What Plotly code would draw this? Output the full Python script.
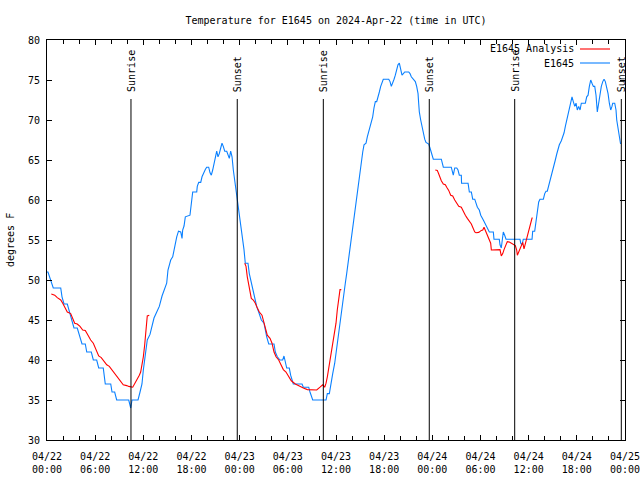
import pandas as pd
import plotly.graph_objects as go

BASE = pd.Timestamp("2024-04-22 00:00")

# E1645 observations: hours since 2024-04-22 00:00 UTC, temperature (F)
obs_hours = [0.00, 0.12, 0.78, 1.71, 1.87, 2.12, 2.53, 2.78, 3.11, 3.36, 3.77, 4.02, 4.36, 4.77, 4.95,
             5.52, 5.77, 6.19, 6.44, 7.01, 7.26, 7.94, 8.10, 8.43, 8.68, 10.18, 10.43, 10.59, 11.34,
             11.59, 11.83, 12.00, 12.25, 12.49, 12.83, 13.08, 13.33, 13.67, 13.99, 14.33, 14.66, 14.91,
             15.07, 15.41, 15.66, 15.91, 16.16, 16.38, 16.66, 16.82, 16.90, 17.07, 17.23, 17.81, 17.90,
             18.06, 18.15, 18.65, 18.72, 18.90, 19.15, 19.31, 19.47, 19.72, 19.89, 20.14, 20.31, 20.47,
             20.64, 20.80, 20.97, 21.14, 21.30, 21.46, 21.64, 21.80, 21.96, 22.14, 22.39, 22.55, 22.71,
             22.88, 23.05, 23.21, 23.38, 23.54, 23.71, 23.88, 24.04, 24.20, 24.38, 24.54, 24.70, 25.04,
             25.20, 25.37, 25.54, 25.70, 25.95, 26.12, 26.37, 26.70, 27.03, 27.19, 27.37, 27.62, 28.28,
             28.44, 28.69, 29.02, 29.36, 29.52, 29.86, 30.18, 30.35, 30.68, 31.77, 31.93, 32.60, 32.76,
             33.01, 33.10, 34.76, 34.92, 35.17, 35.34, 35.59, 35.84, 36.16, 36.41, 36.66, 36.91, 37.16,
             37.33, 37.50, 37.66, 37.83, 37.99, 38.16, 38.33, 38.49, 38.65, 38.83, 38.99, 39.15, 39.33,
             39.49, 39.74, 39.90, 40.07, 40.15, 40.24, 40.40, 40.57, 40.73, 40.90, 41.07, 41.23, 41.40,
             41.57, 41.73, 41.89, 42.57, 42.73, 42.89, 43.06, 43.23, 43.39, 43.56, 43.72, 43.89, 44.06,
             44.22, 44.39, 44.56, 45.06, 45.22, 45.38, 45.72, 45.88, 46.05, 46.22, 46.30, 46.38, 46.55,
             46.71, 46.88, 47.05, 47.21, 47.55, 47.71, 47.96, 48.12, 49.12, 49.29, 49.37, 50.36, 50.54,
             50.61, 50.79, 51.04, 51.20, 51.36, 51.61, 51.64, 52.45, 52.61, 52.86, 53.03, 53.28, 53.44,
             53.61, 53.85, 54.03, 54.35, 54.60, 54.77, 54.94, 55.10, 55.60, 55.68, 56.34, 56.43, 56.59,
             56.68, 56.84, 57.01, 57.18, 58.92, 59.01, 59.17, 59.33, 60.42, 60.50, 60.75, 60.91, 61.08,
             61.25, 61.41, 61.83, 62.00, 62.16, 62.32, 62.50, 62.66, 62.82, 63.00, 63.16, 63.32, 63.50,
             63.66, 63.82, 64.07, 64.25, 64.41, 64.57, 64.74, 64.90, 65.07, 65.24, 65.40, 65.56, 65.74,
             65.90, 66.06, 66.23, 66.40, 66.56, 67.06, 67.23, 67.40, 67.56, 67.73, 67.89, 68.06, 68.23,
             68.39, 68.55, 68.73, 68.89, 69.05, 69.23, 69.39, 69.55, 69.72, 69.89, 70.05, 70.22, 70.38,
             70.47, 70.72, 70.88, 70.97, 71.14, 71.30, 71.45]
obs_temp = [51.0, 51.0, 49.0, 49.0, 47.9, 47.0, 47.0, 46.0, 45.0, 44.0, 44.0, 43.0, 42.0, 42.0, 41.0,
            41.0, 40.0, 40.0, 39.0, 39.0, 37.0, 37.0, 36.0, 36.0, 35.0, 35.0, 34.0, 35.0, 35.0,
            36.0, 37.0, 38.75, 40.4, 42.5, 43.2, 44.2, 45.25, 46.0, 46.7, 48.0, 48.9, 49.6,
            51.25, 52.5, 52.9, 54.4, 55.4, 56.1, 56.0, 55.2, 56.25, 56.75, 57.9, 58.1, 58.8,
            60.4, 61.0, 61.0, 61.7, 62.2, 62.2, 62.9, 63.3, 63.8, 64.1, 64.1, 63.4, 63.1,
            63.75, 64.6, 65.4, 66.1, 65.4, 65.8, 66.5, 67.1, 66.7, 66.1, 66.1, 65.6, 65.2,
            66.1, 65.4, 63.75, 62.5, 61.25, 60.0, 58.6, 57.5, 56.5, 55.4, 53.8, 52.1, 52.1,
            50.8, 50.0, 49.2, 48.3, 47.5, 46.7, 46.0, 45.0, 44.6, 43.75, 42.9, 42.0, 42.0,
            41.0, 40.4, 40.0, 40.0, 40.5, 39.0, 39.0, 38.1, 37.0, 37.0, 36.6, 36.6, 36.0,
            35.4, 35.0, 35.0, 35.8, 35.8, 37.1, 38.3, 39.6, 42.1, 44.2, 46.25, 48.3, 49.6,
            50.8, 52.1, 53.3, 54.6, 55.8, 57.1, 58.3, 59.6, 61.25, 62.5, 63.75, 65.0, 66.0,
            66.9, 67.1, 67.9, 68.5, 69.0, 69.0, 69.8, 70.4, 71.5, 72.3, 72.3, 73.1, 73.5,
            74.2, 74.8, 75.1, 75.1, 74.8, 74.2, 74.8, 75.1, 75.6, 76.25, 76.9, 77.1, 76.5,
            75.6, 75.8, 76.0, 76.0, 75.8, 75.4, 75.0, 74.8, 74.2, 73.3, 72.1, 71.0, 70.0,
            69.2, 68.3, 67.6, 67.2, 67.0, 66.5, 65.7, 65.1, 65.1, 64.6, 64.1, 64.1, 63.5,
            63.1, 64.0, 64.0, 63.75, 63.1, 63.1, 62.1, 62.1, 61.0, 61.0, 60.1, 60.1, 59.6,
            59.1, 58.75, 58.1, 57.5, 57.0, 56.7, 56.25, 56.0, 56.0, 55.1, 55.1, 54.4, 54.0,
            55.0, 56.0, 55.6, 55.1, 55.1, 54.6, 54.4, 55.1, 55.1, 56.1, 56.1, 57.1, 58.6,
            59.75, 60.1, 60.1, 60.8, 61.1, 61.1, 61.75, 62.4, 63.1, 63.75, 64.2, 65.0, 65.75,
            66.4, 66.9, 67.4, 67.9, 68.4, 69.2, 70.0, 70.4, 71.25, 72.3, 72.9, 72.3, 71.7,
            72.1, 71.25, 71.7, 71.25, 72.1, 72.1, 72.9, 73.1, 74.2, 75.0, 74.6, 74.2, 74.2,
            73.1, 71.0, 72.3, 73.3, 74.2, 74.8, 75.1, 74.8, 74.2, 73.3, 72.1, 71.25, 71.7,
            72.1, 72.1, 71.25, 70.0, 68.75, 67.5, 67.0]

# E1645 Analysis (three separate segments; None = gap)
ana_hours = [0.54, 0.96, 1.28, 1.71, 1.96, 2.28, 2.53, 2.95, 3.28, 3.45, 3.77, 4.11, 4.45, 4.77, 5.11,
             5.44, 5.77, 6.10, 6.44, 6.76, 7.10, 7.44, 7.76, 8.10, 8.60, 8.93, 9.26, 9.50, 9.93, 10.18,
             10.68, 10.92, 11.17, 11.50, 11.67, 11.83, 12.00, 12.17, 12.33, 12.49, 12.74, 18.0,
             24.63, 24.79, 24.95, 25.13, 25.29, 25.45, 25.70, 25.95, 26.20, 26.45, 26.78, 26.94, 27.19,
             27.44, 27.78, 28.03, 28.28, 28.53, 28.86, 29.19, 29.44, 29.77, 30.11, 30.43, 30.93, 31.43,
             31.93, 32.43, 33.01, 33.60, 34.01, 34.34, 34.59, 34.76, 34.92, 35.09, 35.25, 35.42, 35.67,
             35.84, 36.00, 36.16, 36.34, 36.50, 36.66, 42.0,
             48.37, 48.62, 48.80, 48.96, 49.12, 49.37, 49.62, 49.79, 50.04, 50.29, 50.54, 50.79, 51.04,
             51.29, 51.61, 51.86, 52.11, 52.36, 52.61, 52.86, 53.03, 53.28, 53.44, 53.78, 54.10, 54.28,
             54.44, 54.60, 54.77, 54.94, 55.10, 55.27, 55.35, 55.93, 56.09, 56.43, 56.59, 56.77, 56.93,
             57.09, 57.34, 57.59, 57.84, 58.09, 58.34, 58.51, 58.59, 58.76, 58.92, 59.09, 59.26, 59.42,
             59.59, 59.76, 59.92, 60.09, 60.26, 60.42, 60.50]
ana_temp = [48.25, 48.1, 47.8, 47.5, 47.1, 46.5, 46.0, 45.8, 45.1, 44.6, 44.5, 44.2, 43.75, 43.7, 43.1,
            42.5, 42.1, 41.25, 40.5, 40.3, 39.8, 39.4, 39.2, 38.75, 38.1, 37.7, 37.3, 36.9, 36.8, 36.7,
            36.6, 37.0, 37.5, 38.1, 38.5, 39.4, 40.4, 41.9, 43.75, 45.5, 45.6, None,
            52.1, 51.7, 50.4, 49.2, 48.3, 47.7, 47.5, 47.1, 46.5, 46.0, 45.6, 45.0, 44.2,
            43.1, 42.7, 42.1, 41.0, 40.4, 40.0, 39.4, 38.8, 38.5, 37.9, 37.4, 37.0, 36.7,
            36.5, 36.3, 36.25, 36.25, 36.6, 36.9, 36.6, 37.1, 37.9, 39.0, 40.0, 41.0, 42.5,
            43.3, 44.6, 46.25, 47.7, 48.8, 48.8, None,
            63.75, 63.7, 63.25, 62.8, 62.4, 62.0, 61.9, 61.6, 61.2, 60.6, 60.5, 60.0, 59.6,
            59.2, 59.1, 58.5, 58.1, 57.7, 57.4, 57.0, 56.6, 56.0, 55.9, 55.95, 56.2, 56.25,
            56.6, 56.2, 55.8, 55.4, 55.0, 54.6, 53.75, 53.75, 53.8, 53.8, 53.0, 53.3, 53.8,
            54.25, 54.8, 54.75, 54.6, 54.4, 54.3, 53.75, 53.1, 53.5, 53.9, 54.4, 54.7, 53.9,
            54.6, 55.2, 55.8, 56.5, 57.2, 57.75, 57.75]

# Sun events (hours since start)
sun_hours = [10.46, 23.70, 34.42, 47.62, 58.26, 71.54]
sun_labels = ["Sunrise", "Sunset", "Sunrise", "Sunset", "Sunrise", "Sunset"]

# X tick labels every 6 h
tick_hours = list(range(0, 73, 6))
tick_text = ["04/22<br>00:00", "04/22<br>06:00", "04/22<br>12:00", "04/22<br>18:00",
             "04/23<br>00:00", "04/23<br>06:00", "04/23<br>12:00", "04/23<br>18:00",
             "04/24<br>00:00", "04/24<br>06:00", "04/24<br>12:00", "04/24<br>18:00",
             "04/25<br>00:00"]
y_ticks = [30, 35, 40, 45, 50, 55, 60, 65, 70, 75, 80]

def to_time(hours):
    return [BASE + pd.Timedelta(hours=h) for h in hours]

FONT = "DejaVu Sans Mono"
FS = 10
RED = "#ff0000"
BLUE = "#0a80ff"

fig = go.Figure()
fig.add_trace(go.Scatter(x=to_time(obs_hours), y=obs_temp, mode="lines",
                         line=dict(color=BLUE, width=1.1), name="E1645",
                         showlegend=False))
fig.add_trace(go.Scatter(x=to_time(ana_hours), y=ana_temp, mode="lines",
                         line=dict(color=RED, width=1.1), name="E1645 Analysis",
                         connectgaps=False, showlegend=False))

# Sunrise / sunset markers
for h, lab in zip(sun_hours, sun_labels):
    t = BASE + pd.Timedelta(hours=h)
    fig.add_shape(type="line", xref="x", yref="paper", x0=t, x1=t, y0=0, y1=0.8525,
                  line=dict(color="black", width=1))
    fig.add_annotation(x=t, xref="x", y=0.865, yref="paper", text=lab, textangle=-90,
                       showarrow=False, xanchor="center", yanchor="bottom",
                       font=dict(family=FONT, size=FS, color="black"))

# Legend (gnuplot-style: text then sample line on right)
for i, (lab, col) in enumerate([("E1645 Analysis", RED), ("E1645", BLUE)]):
    ypos = 1 - (9 + 14 * i) / 400
    fig.add_annotation(x=(576 - 47) / 578, xref="paper", y=ypos, yref="paper", text=lab,
                       showarrow=False, xanchor="right", yanchor="middle",
                       font=dict(family=FONT, size=FS, color="black"))
    fig.add_shape(type="line", xref="paper", yref="paper",
                  x0=(580 - 47) / 578, x1=(610 - 47) / 578, y0=ypos, y1=ypos,
                  line=dict(color=col, width=1.1))

fig.add_annotation(x=(10 - 47) / 578, xref="paper", y=0.5, yref="paper", text="degrees F",
                   textangle=-90, showarrow=False, xanchor="center", yanchor="middle",
                   font=dict(family=FONT, size=FS, color="black"))

fig.update_layout(
    width=640, height=480,
    margin=dict(l=47, r=15, t=40, b=40),
    paper_bgcolor="white", plot_bgcolor="white",
    title=dict(text="Temperature for E1645 on 2024-Apr-22 (time in UTC)",
               x=(47 + 289) / 640, xanchor="center", y=1 - 20 / 480, yanchor="middle",
               font=dict(family=FONT, size=FS, color="black")),
    font=dict(family=FONT, size=FS, color="black"),
    showlegend=False,
)
fig.update_xaxes(
    range=[BASE, BASE + pd.Timedelta(hours=72, seconds=1)],
    tickmode="array", tickvals=to_time(tick_hours), ticktext=tick_text,
    ticks="inside", ticklen=5, tickcolor="black", tickwidth=1,
    showline=True, linecolor="black", linewidth=1, mirror="allticks",
    showgrid=False, zeroline=False, ticklabelstandoff=7,
    automargin=False, ticklabeloverflow="allow",
    minor=dict(ticks="inside", ticklen=4, dtick=2 * 3600 * 1000, tick0=BASE,
               tickcolor="black", showgrid=False),
    tickfont=dict(family=FONT, size=FS, color="black"),
)
fig.update_yaxes(
    range=[30, 80], tickmode="array", tickvals=y_ticks,
    ticks="inside", ticklen=5, tickcolor="black", tickwidth=1,
    showline=True, linecolor="black", linewidth=1, mirror="allticks",
    showgrid=False, zeroline=False, ticklabelstandoff=4, automargin=False,
    tickfont=dict(family=FONT, size=FS, color="black"),
)

fig.write_html("out.html")
